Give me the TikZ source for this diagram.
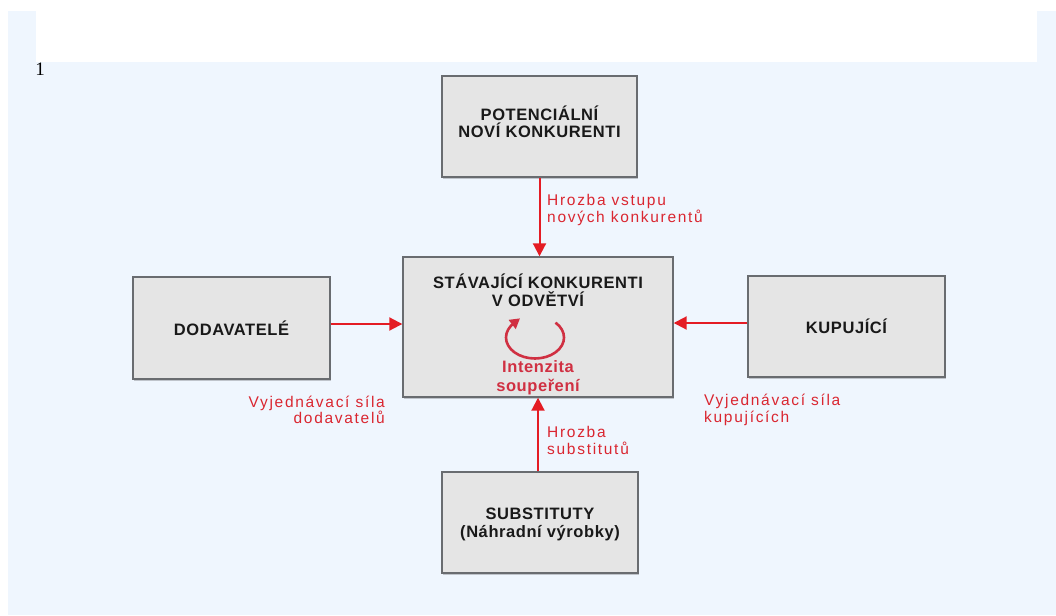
\documentclass[tikz,border=0pt]{standalone}
\usepackage{fontspec}
\setmainfont{Liberation Sans}
\newfontfamily\boxfont[LetterSpace=3.5]{Liberation Sans}
\newfontfamily\labfont[LetterSpace=11]{Liberation Sans}
\newfontfamily\numfont{Liberation Serif}
\usetikzlibrary{arrows.meta,shadows}
\definecolor{bgblue}{RGB}{239,246,254}
\definecolor{boxfill}{RGB}{229,229,229}
\definecolor{boxline}{RGB}{105,108,112}
\definecolor{arrowred}{RGB}{228,28,36}
\definecolor{labred}{RGB}{218,38,48}
\definecolor{circred}{RGB}{208,48,66}
\begin{document}
\begin{tikzpicture}[x=1pt,y=-1pt,
  box/.style={draw=boxline, line width=1.4pt, fill=boxfill, inner sep=0pt, align=center,
    font=\boxfont\bfseries\fontsize{16.5}{17.5}\selectfont, text=black!90,
    drop shadow={shadow xshift=1pt,shadow yshift=-1.5pt,fill=black,opacity=0.2}},
  boxtext/.style={inner sep=0pt, align=center, font=\boxfont\bfseries\fontsize{16.5}{17.5}\selectfont, text=black!90},
  force/.style={draw=arrowred, line width=2pt, -{Triangle[length=13pt,width=13pt]}},
  circ/.style={draw=circred, line width=2.6pt},
  circtip/.style={draw=circred, line width=2.6pt, -{Triangle[length=10pt,width=11pt]}},
  lab/.style={text=labred, font=\labfont\fontsize{15.5}{16.5}\selectfont, inner sep=0pt}]
\useasboundingbox (0,0) rectangle (1056,615);
\fill[white] (0,0) rectangle (1056,615);
\fill[bgblue] (8,11) rectangle (1056,615);
\fill[white] (36,11) rectangle (1037,62);
\node[font=\numfont\fontsize{19}{19}\selectfont, inner sep=0pt] (num) at (40,69) {1};

\node[box, minimum width=195pt, minimum height=101pt] (pot) at (539.5,126.5) {};
\node[boxtext] (pott) at (539.5,122) {POTENCIÁLNÍ\\NOVÍ KONKURENTI};
\node[box, minimum width=270pt, minimum height=140pt] (mid) at (538,327) {};
\node[boxtext] (midt) at (538,290.5) {STÁVAJÍCÍ KONKURENTI\\V ODVĚTVÍ};
\coordinate (cyc) at (535,337.5);
\coordinate (cend) at ([shift={(135:29pt and 21pt)}]cyc);
\draw[circ] ([shift={(45:29pt and 21pt)}]cyc) arc[start angle=45,end angle=-225,x radius=29pt,y radius=21pt];
\draw[circtip] (cend) -- ([shift={(38:7pt)}]cend);
\node[boxtext, text=circred, font=\boxfont\bfseries\fontsize{16.5}{19}\selectfont] (int) at (538,377.5) {Intenzita\\soupeření};

\node[box, minimum width=197pt, minimum height=102pt] (sup) at (231.5,328) {DODAVATELÉ};
\node[box, minimum width=197pt, minimum height=101pt] (buy) at (846.5,326.5) {KUPUJÍCÍ};
\node[box, minimum width=196pt, minimum height=101pt] (sub) at (540,522.5) {};
\node[boxtext] (subt) at (540,524.5) {SUBSTITUTY\\(Náhradní výrobky)};

\coordinate (a1) at ([yshift=4pt]sup.east);
\coordinate (a2) at ([yshift=3.5pt]buy.west);
\draw[force] (pot.south) -- (pot.south |- mid.north);
\draw[force] (a1) -- (a1 -| mid.west);
\draw[force] (a2) -- (a2 -| mid.east);
\draw[force] ([xshift=-2pt]sub.north) -- ([xshift=-2pt]sub.north |- mid.south);

\node[lab, anchor=west, align=left] (l1) at (547,210) {Hrozba vstupu\\nových konkurentů};
\node[lab, anchor=east, align=right] (l2) at (385,410) {Vyjednávací síla\\dodavatelů};
\node[lab, anchor=west, align=left] (l3) at (704,410) {Vyjednávací síla\\kupujících};
\node[lab, anchor=west, align=left] (l4) at (547,440.5) {Hrozba\\substitutů};
\end{tikzpicture}
\end{document}
